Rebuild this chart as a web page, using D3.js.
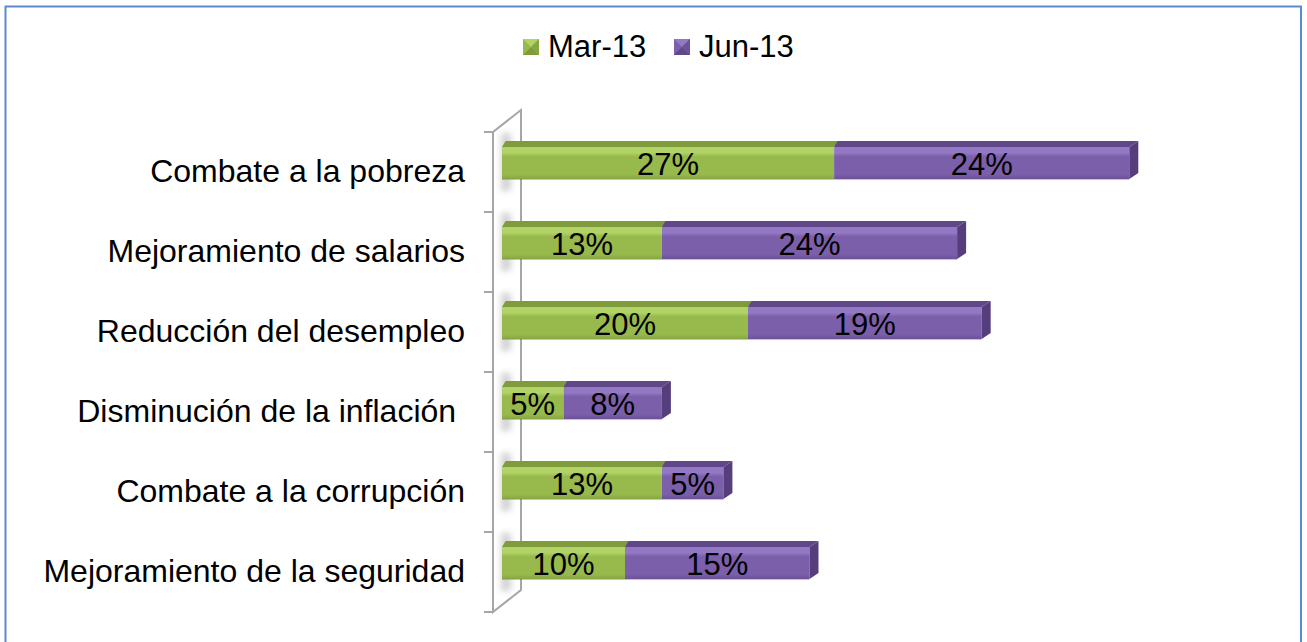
<!DOCTYPE html>
<html><head><meta charset="utf-8">
<script src="https://cdn.jsdelivr.net/npm/d3@7"></script>
<style>
html,body{margin:0;padding:0;background:#fff;}
svg{display:block;font-family:"Liberation Sans",Arial,sans-serif;}
text{white-space:pre;}
</style></head>
<body>
<svg id="c" width="1307" height="642"></svg>
<script>
const categories = ["Combate a la pobreza","Mejoramiento de salarios","Reducción del desempleo","Disminución de la inflación ","Combate a la corrupción","Mejoramiento de la seguridad"];
const seriesNames = ["Mar-13","Jun-13"];
const mar13 = [27,13,20,5,13,10];
const jun13 = [24,24,19,8,5,15];

const svg = d3.select("#c");
const defs = svg.append("defs");

const pal = {
  "Mar-13": {hi:"#b0d266", front:"#98ba4c", low:"#86a642", top:"#7f9b3c", side:"#758f36"},
  "Jun-13": {hi:"#9379c4", front:"#7b5faa", low:"#6c5298", top:"#604789", side:"#563e7c"}
};
Object.entries(pal).forEach(([k,c],i)=>{
  const g = defs.append("linearGradient").attr("id","gf"+i).attr("x1",0).attr("y1",0).attr("x2",0).attr("y2",1);
  g.append("stop").attr("offset","0%").attr("stop-color",c.hi);
  g.append("stop").attr("offset","18%").attr("stop-color",c.hi);
  g.append("stop").attr("offset","30%").attr("stop-color",c.front);
  g.append("stop").attr("offset","85%").attr("stop-color",c.front);
  g.append("stop").attr("offset","100%").attr("stop-color",c.low);
});
const blur = defs.append("filter").attr("id","bl").attr("x","-50%").attr("y","-50%").attr("width","200%").attr("height","200%");
blur.append("feGaussianBlur").attr("stdDeviation",3);

// border
svg.append("rect").attr("x",5.5).attr("y",6.5).attr("width",1295.5).attr("height",700)
  .attr("fill","none").attr("stroke","#5a8ad0").attr("stroke-width",2);

const x = d3.scaleLinear().domain([0,100]).range([502,1732]);
const y = d3.scaleBand().domain(categories).range([132,612]);
const wallX = 493, ddx = 28, ddy = 22;
const barOff = 15, barH = 32, bdx = 9, bdy = 6;

// wall
const wall = svg.append("g").attr("fill","none").attr("stroke","#a6a6a6").attr("stroke-width",2);
const yTop = y.range()[0], yBot = y.range()[1];
wall.append("path").attr("d",`M${wallX},${yTop}L${wallX},${yBot}L${wallX+ddx},${yBot-ddy}L${wallX+ddx},${yTop-ddy}Z`);
const bounds = categories.map(c=>y(c)).concat([yBot]);
wall.selectAll("line.tk").data(bounds).join("line").attr("class","tk")
  .attr("x1",wallX-9).attr("x2",wallX).attr("y1",d=>d).attr("y2",d=>d);

// shadows on wall near bar starts
svg.append("g").selectAll("rect").data(categories).join("rect")
  .attr("x",x(0)-1).attr("width",10)
  .attr("y",c=>y(c)+barOff-14).attr("height",barH+26)
  .attr("fill","#c8c8c8").attr("filter","url(#bl)").attr("opacity",0.8);

// labels
const ax = svg.append("g").attr("transform",`translate(${wallX},0)`)
  .call(d3.axisLeft(y).tickSize(0).tickPadding(28));
ax.select(".domain").remove();
ax.selectAll("text").attr("font-size",32).attr("fill","#000")
  .attr("font-family","'Liberation Sans',Arial,sans-serif").attr("dy","0.32em");

// bars
const stack = categories.map((c,i)=>{
  return [
    {c, s:"Mar-13", i:0, x0:0, x1:mar13[i], v:mar13[i], last:false},
    {c, s:"Jun-13", i:1, x0:mar13[i], x1:mar13[i]+jun13[i], v:jun13[i], last:true}
  ];
});
const bars = svg.append("g");
stack.forEach(segs=>{
  segs.forEach(d=>{
    const c = pal[d.s];
    const yf = y(d.c)+barOff;
    const xa = x(d.x0), xb = x(d.x1);
    const g = bars.append("g");
    g.append("path").attr("d",`M${xa},${yf}L${xa+bdx*0.4},${yf-bdy}L${xb+bdx},${yf-bdy}L${xb},${yf}Z`).attr("fill",c.top);
    g.append("rect").attr("x",xa).attr("y",yf).attr("width",xb-xa).attr("height",barH).attr("fill",`url(#gf${d.i})`);
    if(d.last){
      g.append("path").attr("d",`M${xb},${yf}L${xb+bdx},${yf-bdy}L${xb+bdx},${yf+barH-bdy}L${xb},${yf+barH}Z`).attr("fill",c.side);
    }
    g.append("line").attr("x1",xa).attr("x2",xb).attr("y1",yf+barH+0.5).attr("y2",yf+barH+0.5).attr("stroke","#5a5a5a").attr("stroke-opacity",0.35);
  });
});
// value labels
svg.append("g").selectAll("text").data(stack.flat()).join("text")
  .attr("x",d=>(x(d.x0)+x(d.x1))/2)
  .attr("y",d=>y(d.c)+barOff+barH/2+12)
  .attr("text-anchor","middle").attr("font-size",31).attr("fill","#000")
  .text(d=>d.v+"%");

// legend
const legX = [523,674];
const lg = svg.append("g").selectAll("g").data(seriesNames).join("g")
  .attr("transform",(d,i)=>`translate(${legX[i]},39)`);
const s=16;
lg.append("rect").attr("width",s).attr("height",s).attr("fill",d=>pal[d].front);
lg.append("path").attr("d",`M0,0L${s},0L${s/2},${s/2}Z`).attr("fill",d=>pal[d].hi);
lg.append("path").attr("d",`M0,${s}L${s},${s}L${s/2},${s/2}Z`).attr("fill",d=>pal[d].top);
lg.append("path").attr("d",`M${s},0L${s},${s}L${s/2},${s/2}Z`).attr("fill",d=>pal[d].low);
lg.append("text").attr("x",25).attr("y",18).attr("font-size",31).attr("fill","#000").text(d=>d);
</script>
</body></html>
